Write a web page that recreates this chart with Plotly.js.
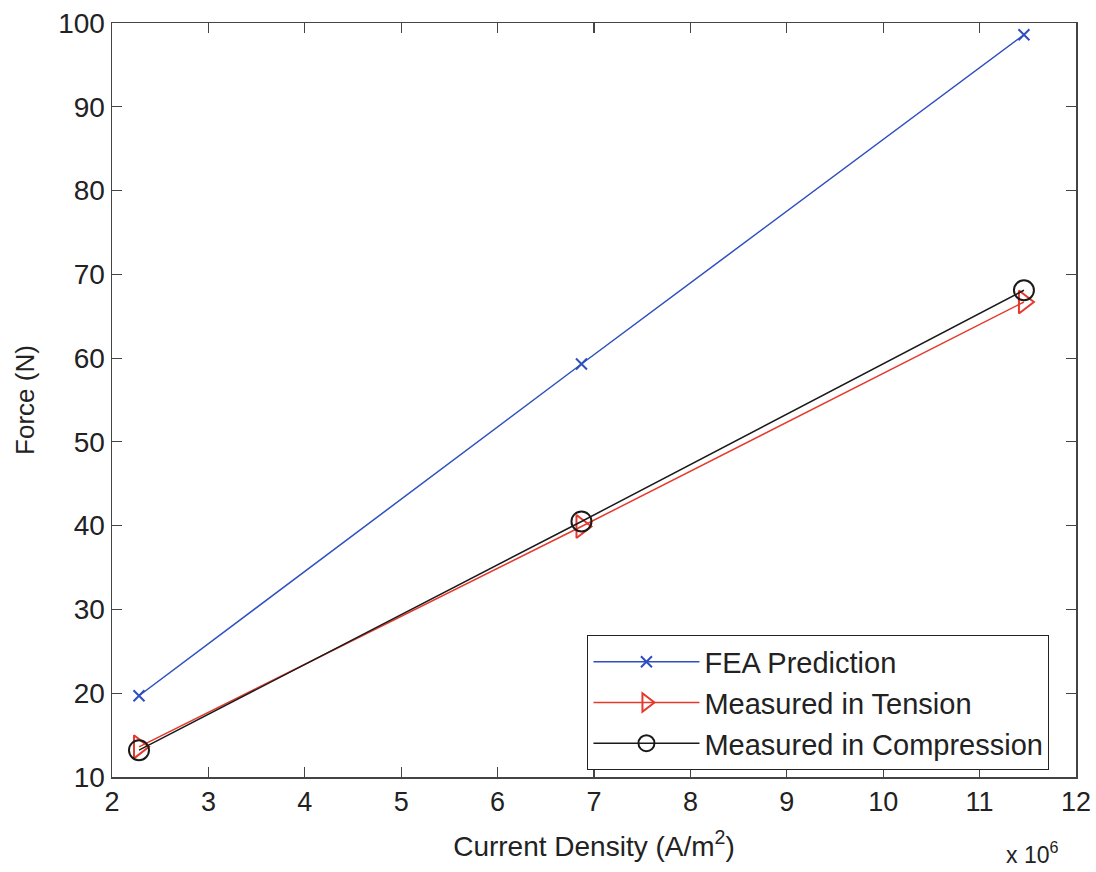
<!DOCTYPE html>
<html>
<head>
<meta charset="utf-8">
<script src="https://cdn.plot.ly/plotly-3.0.1.min.js"></script>
<style>html,body{margin:0;padding:0;background:#fff;}#chart{width:1096px;height:872px;}</style>
</head>
<body>
<div id="chart"></div>
<script>
// Current density in units of 10^6 A/m^2
const currentDensity = [2.28, 6.87, 11.46];
const feaPrediction = [19.7, 59.3, 98.6];
const measuredTension = [13.6, 39.9, 66.7];
const measuredCompression = [13.2, 40.5, 68.1];
const seriesNames = ["FEA Prediction", "Measured in Tension", "Measured in Compression"];
const xTicks = [2, 3, 4, 5, 6, 7, 8, 9, 10, 11, 12];
const yTicks = [10, 20, 30, 40, 50, 60, 70, 80, 90, 100];

const traces = [
  {x: currentDensity, y: feaPrediction, name: seriesNames[0], mode: "lines+markers",
   line: {color: "#2f4fbf", width: 1.5},
   marker: {symbol: "x-thin-open", size: 11, color: "#2f4fbf", line: {color: "#2f4fbf", width: 2}}},
  {x: currentDensity, y: measuredTension, name: seriesNames[1], mode: "lines+markers",
   line: {color: "#e5392b", width: 1.5},
   marker: {symbol: "triangle-right-open", size: 20, color: "#e5392b", line: {color: "#e5392b", width: 2}}},
  {x: currentDensity, y: measuredCompression, name: seriesNames[2], mode: "lines+markers",
   line: {color: "#1a1a1a", width: 1.5},
   marker: {symbol: "circle-open", size: 20, color: "#1a1a1a", line: {color: "#1a1a1a", width: 2}}}
];

const axisCommon = {
  showline: true, mirror: "ticks", ticks: "inside", ticklen: 10, tickwidth: 1.2,
  linecolor: "#444", tickcolor: "#444", linewidth: 1.5, showgrid: false, zeroline: false
};

const layout = {
  width: 1096, height: 872,
  paper_bgcolor: "#fff", plot_bgcolor: "#fff",
  margin: {l: 112, r: 20, t: 23, b: 95},
  showlegend: true,
  xaxis: Object.assign({}, axisCommon, {
    range: [2, 12], tickvals: xTicks, ticktext: xTicks.map(String),
    tickfont: {family: "Liberation Sans, Arial, sans-serif", size: 27, color: "#222"},
    title: {text: "Current Density (A/m<sup>2</sup>)", standoff: 20,
      font: {family: "Liberation Sans, Arial, sans-serif", size: 28, color: "#222"}}
  }),
  yaxis: Object.assign({}, axisCommon, {
    range: [10, 100], tickvals: yTicks, ticktext: yTicks.map(String),
    tickfont: {family: "Liberation Sans, Arial, sans-serif", size: 28, color: "#222"},
    title: {text: "Force (N)", standoff: 16,
      font: {family: "Liberation Sans, Arial, sans-serif", size: 26, color: "#222"}}
  }),
  legend: {
    x: 0.493, y: 0.188, xanchor: "left", yanchor: "top",
    bgcolor: "#fff", bordercolor: "#222", borderwidth: 1.2,
    font: {family: "Liberation Sans, Arial, sans-serif", size: 29, color: "#222"},
    itemwidth: 106, tracegroupgap: 0
  },
  annotations: [{
    xref: "paper", yref: "paper", x: 0.983, y: -0.078, xanchor: "right", yanchor: "top",
    text: "x 10<sup>6</sup>", showarrow: false,
    font: {family: "Liberation Sans, Arial, sans-serif", size: 23, color: "#222"}
  }]
};

Plotly.newPlot("chart", traces, layout, {displayModeBar: false, staticPlot: true});
</script>
</body>
</html>
